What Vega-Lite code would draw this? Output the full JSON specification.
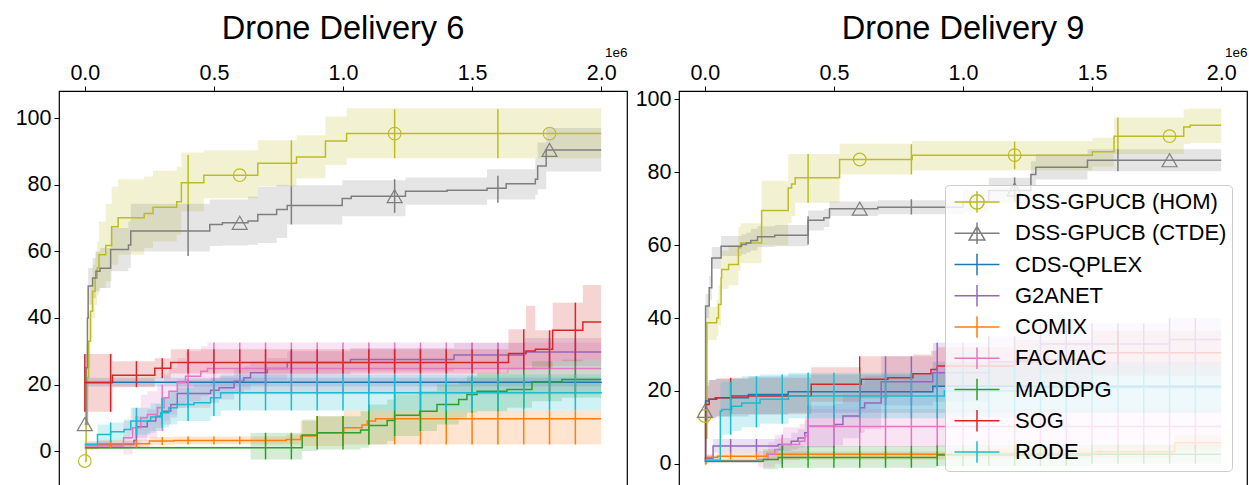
{
"$schema": "https://vega.github.io/schema/vega-lite/v6.json",
"padding": {"left": 14, "top": 12, "right": 0, "bottom": 0},
"bounds": "flush",
"spacing": 52,
"config": {
  "font": "Liberation Sans",
  "view": {"stroke": "black", "strokeWidth": 1.2},
  "axis": {"domain": false, "grid": false, "tickColor": "black", "tickSize": 5, "tickWidth": 1, "labelFontSize": 21.5, "labelColor": "black", "labelFont": "Liberation Sans"},
  "title": {"fontSize": 32.6, "font": "Liberation Sans", "fontWeight": "normal", "color": "black", "offset": -1},
  "legend": {"labelFontSize": 22, "labelFont": "Liberation Sans", "labelColor": "black", "labelLimit": 400, "symbolSize": 506, "symbolStrokeWidth": 1.5, "symbolOpacity": 1, "symbolOffset": 15, "labelOffset": 26, "rowPadding": 3.25, "padding": 5, "fillColor": "rgba(255,255,255,0.8)", "strokeColor": "#cccccc", "strokeWidth": 1, "cornerRadius": 4, "symbolFillColor": "transparent"}
},
"datasets": {
"steps": [
{"p":1,"s":"DSS-GPUCB (HOM)","x":0,"y":-3,"lo":-4,"hi":-2},
{"p":1,"s":"DSS-GPUCB (HOM)","x":0.005,"y":8,"lo":3,"hi":13},
{"p":1,"s":"DSS-GPUCB (HOM)","x":0.01,"y":22,"lo":15,"hi":29},
{"p":1,"s":"DSS-GPUCB (HOM)","x":0.015,"y":33,"lo":25,"hi":41},
{"p":1,"s":"DSS-GPUCB (HOM)","x":0.022,"y":42,"lo":34,"hi":50},
{"p":1,"s":"DSS-GPUCB (HOM)","x":0.03,"y":48,"lo":40,"hi":56},
{"p":1,"s":"DSS-GPUCB (HOM)","x":0.04,"y":52,"lo":44,"hi":60},
{"p":1,"s":"DSS-GPUCB (HOM)","x":0.048,"y":55,"lo":47,"hi":63},
{"p":1,"s":"DSS-GPUCB (HOM)","x":0.055,"y":59,"lo":49,"hi":69},
{"p":1,"s":"DSS-GPUCB (HOM)","x":0.081,"y":61.8,"lo":51,"hi":74.3},
{"p":1,"s":"DSS-GPUCB (HOM)","x":0.104,"y":67.4,"lo":56,"hi":79.4},
{"p":1,"s":"DSS-GPUCB (HOM)","x":0.129,"y":70.1,"lo":59,"hi":81.7},
{"p":1,"s":"DSS-GPUCB (HOM)","x":0.23,"y":71.4,"lo":61,"hi":82.5},
{"p":1,"s":"DSS-GPUCB (HOM)","x":0.264,"y":73.3,"lo":63,"hi":84.2},
{"p":1,"s":"DSS-GPUCB (HOM)","x":0.356,"y":74.9,"lo":65,"hi":85.5},
{"p":1,"s":"DSS-GPUCB (HOM)","x":0.374,"y":80.6,"lo":72,"hi":89.7},
{"p":1,"s":"DSS-GPUCB (HOM)","x":0.461,"y":82.9,"lo":76,"hi":90.4},
{"p":1,"s":"DSS-GPUCB (HOM)","x":0.67,"y":86.5,"lo":79.6,"hi":93.4},
{"p":1,"s":"DSS-GPUCB (HOM)","x":0.82,"y":88.4,"lo":82,"hi":94.9},
{"p":1,"s":"DSS-GPUCB (HOM)","x":0.932,"y":93.2,"lo":86,"hi":100.5},
{"p":1,"s":"DSS-GPUCB (HOM)","x":1.014,"y":95.4,"lo":88,"hi":103},
{"p":1,"s":"DSS-GPUCB (HOM)","x":2.0,"y":95.4,"lo":88,"hi":103},
{"p":1,"s":"DSS-GPUCB (CTDE)","x":0,"y":8.1,"lo":7,"hi":9},
{"p":1,"s":"DSS-GPUCB (CTDE)","x":0.005,"y":25,"lo":20,"hi":30},
{"p":1,"s":"DSS-GPUCB (CTDE)","x":0.01,"y":40,"lo":35,"hi":45},
{"p":1,"s":"DSS-GPUCB (CTDE)","x":0.013,"y":49.6,"lo":44,"hi":55},
{"p":1,"s":"DSS-GPUCB (CTDE)","x":0.03,"y":52,"lo":46,"hi":58},
{"p":1,"s":"DSS-GPUCB (CTDE)","x":0.043,"y":54,"lo":48,"hi":60},
{"p":1,"s":"DSS-GPUCB (CTDE)","x":0.059,"y":54.9,"lo":49,"hi":61},
{"p":1,"s":"DSS-GPUCB (CTDE)","x":0.1,"y":60.6,"lo":54,"hi":67},
{"p":1,"s":"DSS-GPUCB (CTDE)","x":0.169,"y":61.9,"lo":55,"hi":69},
{"p":1,"s":"DSS-GPUCB (CTDE)","x":0.178,"y":66.1,"lo":60,"hi":74.3},
{"p":1,"s":"DSS-GPUCB (CTDE)","x":0.484,"y":68.1,"lo":61.6,"hi":75.6},
{"p":1,"s":"DSS-GPUCB (CTDE)","x":0.533,"y":68.6,"lo":61.8,"hi":75.6},
{"p":1,"s":"DSS-GPUCB (CTDE)","x":0.632,"y":69.1,"lo":62,"hi":76.5},
{"p":1,"s":"DSS-GPUCB (CTDE)","x":0.67,"y":71.1,"lo":62.5,"hi":79.4},
{"p":1,"s":"DSS-GPUCB (CTDE)","x":0.743,"y":72.6,"lo":64,"hi":80},
{"p":1,"s":"DSS-GPUCB (CTDE)","x":0.784,"y":73.8,"lo":68.1,"hi":79.9},
{"p":1,"s":"DSS-GPUCB (CTDE)","x":0.997,"y":75.9,"lo":70.6,"hi":81.4},
{"p":1,"s":"DSS-GPUCB (CTDE)","x":1.032,"y":76.6,"lo":70.6,"hi":81.4},
{"p":1,"s":"DSS-GPUCB (CTDE)","x":1.242,"y":78.1,"lo":74,"hi":82.2},
{"p":1,"s":"DSS-GPUCB (CTDE)","x":1.403,"y":78.4,"lo":74,"hi":82.2},
{"p":1,"s":"DSS-GPUCB (CTDE)","x":1.558,"y":79,"lo":75.6,"hi":84.7},
{"p":1,"s":"DSS-GPUCB (CTDE)","x":1.632,"y":80.3,"lo":75.6,"hi":84.7},
{"p":1,"s":"DSS-GPUCB (CTDE)","x":1.745,"y":81.7,"lo":77,"hi":88},
{"p":1,"s":"DSS-GPUCB (CTDE)","x":1.754,"y":85.7,"lo":78.7,"hi":92.7},
{"p":1,"s":"DSS-GPUCB (CTDE)","x":1.787,"y":90.5,"lo":84,"hi":97.1},
{"p":1,"s":"DSS-GPUCB (CTDE)","x":2.0,"y":90.5,"lo":84,"hi":97.1},
{"p":1,"s":"CDS-QPLEX","x":0,"y":20.7,"lo":19.4,"hi":22},
{"p":1,"s":"CDS-QPLEX","x":2.0,"y":20.8,"lo":19.4,"hi":22},
{"p":1,"s":"G2ANET","x":0,"y":2,"lo":1,"hi":3},
{"p":1,"s":"G2ANET","x":0.19,"y":3.2,"lo":1.5,"hi":5},
{"p":1,"s":"G2ANET","x":0.2,"y":7.3,"lo":4,"hi":10.5},
{"p":1,"s":"G2ANET","x":0.242,"y":9,"lo":5.5,"hi":12.5},
{"p":1,"s":"G2ANET","x":0.275,"y":10.5,"lo":7,"hi":14},
{"p":1,"s":"G2ANET","x":0.3,"y":12,"lo":8,"hi":16},
{"p":1,"s":"G2ANET","x":0.333,"y":14,"lo":10,"hi":18},
{"p":1,"s":"G2ANET","x":0.358,"y":17.3,"lo":13,"hi":21.5},
{"p":1,"s":"G2ANET","x":0.487,"y":18.3,"lo":14.5,"hi":22},
{"p":1,"s":"G2ANET","x":0.52,"y":19,"lo":15.5,"hi":22.5},
{"p":1,"s":"G2ANET","x":0.578,"y":21,"lo":17.5,"hi":24.5},
{"p":1,"s":"G2ANET","x":0.616,"y":22,"lo":18.5,"hi":25.5},
{"p":1,"s":"G2ANET","x":0.642,"y":23.5,"lo":20,"hi":27},
{"p":1,"s":"G2ANET","x":0.707,"y":24.8,"lo":21.5,"hi":28},
{"p":1,"s":"G2ANET","x":0.784,"y":26.6,"lo":23,"hi":30},
{"p":1,"s":"G2ANET","x":1.029,"y":27.5,"lo":24,"hi":31},
{"p":1,"s":"G2ANET","x":1.43,"y":28.9,"lo":25,"hi":32.5},
{"p":1,"s":"G2ANET","x":1.703,"y":29.8,"lo":25.5,"hi":34},
{"p":1,"s":"G2ANET","x":2.0,"y":29.8,"lo":25.5,"hi":34},
{"p":1,"s":"COMIX","x":0,"y":1,"lo":0.5,"hi":1.5},
{"p":1,"s":"COMIX","x":0.05,"y":2.2,"lo":1,"hi":3.4},
{"p":1,"s":"COMIX","x":0.25,"y":3,"lo":1.8,"hi":4.2},
{"p":1,"s":"COMIX","x":0.345,"y":3.2,"lo":2,"hi":4.4},
{"p":1,"s":"COMIX","x":0.78,"y":3.5,"lo":2,"hi":5},
{"p":1,"s":"COMIX","x":0.836,"y":4.5,"lo":1.5,"hi":9},
{"p":1,"s":"COMIX","x":0.9,"y":5.5,"lo":1.5,"hi":10.5},
{"p":1,"s":"COMIX","x":1.003,"y":7,"lo":2,"hi":12.2},
{"p":1,"s":"COMIX","x":1.074,"y":7.8,"lo":2,"hi":12.2},
{"p":1,"s":"COMIX","x":1.094,"y":9,"lo":2,"hi":12.2},
{"p":1,"s":"COMIX","x":1.126,"y":9.7,"lo":2,"hi":12.2},
{"p":1,"s":"COMIX","x":2.0,"y":9.7,"lo":2,"hi":12.2},
{"p":1,"s":"FACMAC","x":0,"y":1.5,"lo":0.5,"hi":2.5},
{"p":1,"s":"FACMAC","x":0.15,"y":4,"lo":-1,"hi":9},
{"p":1,"s":"FACMAC","x":0.185,"y":7,"lo":1,"hi":13},
{"p":1,"s":"FACMAC","x":0.217,"y":10,"lo":3,"hi":17},
{"p":1,"s":"FACMAC","x":0.242,"y":11,"lo":4,"hi":18},
{"p":1,"s":"FACMAC","x":0.281,"y":13,"lo":6,"hi":20},
{"p":1,"s":"FACMAC","x":0.307,"y":16,"lo":9,"hi":23},
{"p":1,"s":"FACMAC","x":0.326,"y":18,"lo":11,"hi":25},
{"p":1,"s":"FACMAC","x":0.358,"y":20.5,"lo":13,"hi":28},
{"p":1,"s":"FACMAC","x":0.39,"y":22.5,"lo":15,"hi":30},
{"p":1,"s":"FACMAC","x":0.449,"y":24,"lo":16.5,"hi":31.5},
{"p":1,"s":"FACMAC","x":0.475,"y":24.8,"lo":17,"hi":32.6},
{"p":1,"s":"FACMAC","x":2.0,"y":24.8,"lo":17,"hi":32.6},
{"p":1,"s":"MADDPG","x":0,"y":1,"lo":0.6,"hi":1.4},
{"p":1,"s":"MADDPG","x":0.642,"y":1,"lo":-2.5,"hi":5.5},
{"p":1,"s":"MADDPG","x":0.842,"y":4.8,"lo":0,"hi":9.5},
{"p":1,"s":"MADDPG","x":0.9,"y":5.5,"lo":0.5,"hi":10.5},
{"p":1,"s":"MADDPG","x":1.068,"y":6.3,"lo":1,"hi":12},
{"p":1,"s":"MADDPG","x":1.1,"y":7.7,"lo":2,"hi":14},
{"p":1,"s":"MADDPG","x":1.171,"y":9.2,"lo":3,"hi":15.5},
{"p":1,"s":"MADDPG","x":1.2,"y":10.8,"lo":4.5,"hi":17},
{"p":1,"s":"MADDPG","x":1.297,"y":12,"lo":6,"hi":18},
{"p":1,"s":"MADDPG","x":1.364,"y":14,"lo":8,"hi":20},
{"p":1,"s":"MADDPG","x":1.448,"y":15.5,"lo":10,"hi":21},
{"p":1,"s":"MADDPG","x":1.48,"y":17,"lo":11.5,"hi":22.5},
{"p":1,"s":"MADDPG","x":1.519,"y":18,"lo":12,"hi":23.5},
{"p":1,"s":"MADDPG","x":1.635,"y":18.5,"lo":13,"hi":25},
{"p":1,"s":"MADDPG","x":1.732,"y":20.8,"lo":15,"hi":27},
{"p":1,"s":"MADDPG","x":1.848,"y":21.5,"lo":16,"hi":27.5},
{"p":1,"s":"MADDPG","x":2.0,"y":21.5,"lo":16,"hi":27.5},
{"p":1,"s":"SOG","x":0,"y":20.5,"lo":11.8,"hi":29.2},
{"p":1,"s":"SOG","x":0.107,"y":22.8,"lo":19.2,"hi":27},
{"p":1,"s":"SOG","x":0.271,"y":24.9,"lo":21.9,"hi":27.9},
{"p":1,"s":"SOG","x":0.333,"y":26.6,"lo":23.3,"hi":30.6},
{"p":1,"s":"SOG","x":1.641,"y":29.3,"lo":24.5,"hi":36.6},
{"p":1,"s":"SOG","x":1.709,"y":30.1,"lo":24.5,"hi":43.7},
{"p":1,"s":"SOG","x":1.745,"y":30.6,"lo":25,"hi":36.3},
{"p":1,"s":"SOG","x":1.812,"y":36.3,"lo":27,"hi":44.6},
{"p":1,"s":"SOG","x":1.929,"y":38.8,"lo":27.5,"hi":49.9},
{"p":1,"s":"SOG","x":2.0,"y":38.8,"lo":27.5,"hi":49.9},
{"p":1,"s":"RODE","x":0,"y":2,"lo":1.5,"hi":2.5},
{"p":1,"s":"RODE","x":0.049,"y":5,"lo":2,"hi":8},
{"p":1,"s":"RODE","x":0.1,"y":5.8,"lo":3,"hi":8.6},
{"p":1,"s":"RODE","x":0.152,"y":6.5,"lo":3.5,"hi":9.5},
{"p":1,"s":"RODE","x":0.178,"y":9,"lo":5,"hi":13},
{"p":1,"s":"RODE","x":0.255,"y":10.2,"lo":6,"hi":14.4},
{"p":1,"s":"RODE","x":0.294,"y":11.5,"lo":7,"hi":16},
{"p":1,"s":"RODE","x":0.326,"y":13,"lo":8,"hi":18},
{"p":1,"s":"RODE","x":0.358,"y":14,"lo":9,"hi":19},
{"p":1,"s":"RODE","x":0.423,"y":14.5,"lo":9,"hi":20},
{"p":1,"s":"RODE","x":0.487,"y":16,"lo":10.5,"hi":21.5},
{"p":1,"s":"RODE","x":0.526,"y":17.5,"lo":12.2,"hi":23},
{"p":1,"s":"RODE","x":2.0,"y":17.7,"lo":12.2,"hi":23},
{"p":2,"s":"DSS-GPUCB (HOM)","x":0,"y":13.1,"lo":12,"hi":14.5},
{"p":2,"s":"DSS-GPUCB (HOM)","x":0.003,"y":7,"lo":5,"hi":9},
{"p":2,"s":"DSS-GPUCB (HOM)","x":0.008,"y":38.7,"lo":34,"hi":43},
{"p":2,"s":"DSS-GPUCB (HOM)","x":0.046,"y":40,"lo":35,"hi":45},
{"p":2,"s":"DSS-GPUCB (HOM)","x":0.053,"y":43.7,"lo":38,"hi":49},
{"p":2,"s":"DSS-GPUCB (HOM)","x":0.063,"y":51,"lo":45,"hi":57},
{"p":2,"s":"DSS-GPUCB (HOM)","x":0.065,"y":53.3,"lo":48,"hi":58.5},
{"p":2,"s":"DSS-GPUCB (HOM)","x":0.092,"y":54.7,"lo":49,"hi":60},
{"p":2,"s":"DSS-GPUCB (HOM)","x":0.13,"y":59.3,"lo":53,"hi":65},
{"p":2,"s":"DSS-GPUCB (HOM)","x":0.139,"y":60.6,"lo":55,"hi":66},
{"p":2,"s":"DSS-GPUCB (HOM)","x":0.22,"y":69.5,"lo":60,"hi":77.7},
{"p":2,"s":"DSS-GPUCB (HOM)","x":0.323,"y":75.7,"lo":66,"hi":85},
{"p":2,"s":"DSS-GPUCB (HOM)","x":0.336,"y":76.8,"lo":68,"hi":85},
{"p":2,"s":"DSS-GPUCB (HOM)","x":0.35,"y":78.5,"lo":71.6,"hi":85},
{"p":2,"s":"DSS-GPUCB (HOM)","x":0.522,"y":83.5,"lo":79.4,"hi":87.8},
{"p":2,"s":"DSS-GPUCB (HOM)","x":0.803,"y":84.7,"lo":80.5,"hi":88.6},
{"p":2,"s":"DSS-GPUCB (HOM)","x":1.501,"y":85.6,"lo":81.5,"hi":89.5},
{"p":2,"s":"DSS-GPUCB (HOM)","x":1.585,"y":89.9,"lo":85,"hi":95},
{"p":2,"s":"DSS-GPUCB (HOM)","x":1.855,"y":92.4,"lo":87.7,"hi":97.3},
{"p":2,"s":"DSS-GPUCB (HOM)","x":1.88,"y":92.9,"lo":88,"hi":97.5},
{"p":2,"s":"DSS-GPUCB (HOM)","x":2.0,"y":92.9,"lo":88,"hi":97.5},
{"p":2,"s":"DSS-GPUCB (CTDE)","x":0,"y":14.5,"lo":13,"hi":16},
{"p":2,"s":"DSS-GPUCB (CTDE)","x":0.003,"y":43.3,"lo":40,"hi":46.5},
{"p":2,"s":"DSS-GPUCB (CTDE)","x":0.017,"y":48.3,"lo":45,"hi":51.5},
{"p":2,"s":"DSS-GPUCB (CTDE)","x":0.027,"y":56.5,"lo":53.5,"hi":59.5},
{"p":2,"s":"DSS-GPUCB (CTDE)","x":0.063,"y":59.7,"lo":57,"hi":62.5},
{"p":2,"s":"DSS-GPUCB (CTDE)","x":0.142,"y":60.2,"lo":57.5,"hi":63},
{"p":2,"s":"DSS-GPUCB (CTDE)","x":0.161,"y":60.6,"lo":58,"hi":63.5},
{"p":2,"s":"DSS-GPUCB (CTDE)","x":0.178,"y":61.3,"lo":58.5,"hi":64.5},
{"p":2,"s":"DSS-GPUCB (CTDE)","x":0.204,"y":62.3,"lo":59.5,"hi":65.2},
{"p":2,"s":"DSS-GPUCB (CTDE)","x":0.271,"y":62.7,"lo":59.7,"hi":65.5},
{"p":2,"s":"DSS-GPUCB (CTDE)","x":0.4,"y":66.8,"lo":64,"hi":69.5},
{"p":2,"s":"DSS-GPUCB (CTDE)","x":0.461,"y":67.5,"lo":65,"hi":70},
{"p":2,"s":"DSS-GPUCB (CTDE)","x":0.483,"y":70,"lo":68,"hi":72},
{"p":2,"s":"DSS-GPUCB (CTDE)","x":0.67,"y":70.4,"lo":68.5,"hi":72.3},
{"p":2,"s":"DSS-GPUCB (CTDE)","x":1.0,"y":72,"lo":69,"hi":75},
{"p":2,"s":"DSS-GPUCB (CTDE)","x":1.1,"y":75,"lo":71.5,"hi":78.5},
{"p":2,"s":"DSS-GPUCB (CTDE)","x":1.263,"y":79.4,"lo":76,"hi":83},
{"p":2,"s":"DSS-GPUCB (CTDE)","x":1.282,"y":81.4,"lo":78,"hi":85},
{"p":2,"s":"DSS-GPUCB (CTDE)","x":1.482,"y":83.3,"lo":80.3,"hi":86.3},
{"p":2,"s":"DSS-GPUCB (CTDE)","x":2.0,"y":83.3,"lo":80.3,"hi":86.3},
{"p":2,"s":"CDS-QPLEX","x":0,"y":1,"lo":0,"hi":2},
{"p":2,"s":"CDS-QPLEX","x":0.003,"y":17.2,"lo":12,"hi":22.5},
{"p":2,"s":"CDS-QPLEX","x":0.015,"y":17.7,"lo":12.5,"hi":23},
{"p":2,"s":"CDS-QPLEX","x":0.04,"y":18.1,"lo":13,"hi":23.3},
{"p":2,"s":"CDS-QPLEX","x":0.169,"y":19,"lo":13.5,"hi":24},
{"p":2,"s":"CDS-QPLEX","x":0.323,"y":19.8,"lo":14,"hi":24.5},
{"p":2,"s":"CDS-QPLEX","x":0.883,"y":21.3,"lo":14,"hi":28},
{"p":2,"s":"CDS-QPLEX","x":2.0,"y":21.3,"lo":14,"hi":28},
{"p":2,"s":"G2ANET","x":0,"y":1.5,"lo":0.5,"hi":2.5},
{"p":2,"s":"G2ANET","x":0.032,"y":4.9,"lo":3,"hi":6.8},
{"p":2,"s":"G2ANET","x":0.284,"y":5.3,"lo":3.5,"hi":7},
{"p":2,"s":"G2ANET","x":0.335,"y":6.2,"lo":4,"hi":8.5},
{"p":2,"s":"G2ANET","x":0.361,"y":7.1,"lo":4.5,"hi":9.5},
{"p":2,"s":"G2ANET","x":0.387,"y":8.5,"lo":5,"hi":12},
{"p":2,"s":"G2ANET","x":0.4,"y":10.3,"lo":4.5,"hi":16},
{"p":2,"s":"G2ANET","x":0.503,"y":10.8,"lo":5,"hi":16.5},
{"p":2,"s":"G2ANET","x":0.535,"y":13.1,"lo":7,"hi":19},
{"p":2,"s":"G2ANET","x":0.6,"y":15.4,"lo":8.5,"hi":22},
{"p":2,"s":"G2ANET","x":0.619,"y":16.7,"lo":9.5,"hi":24},
{"p":2,"s":"G2ANET","x":0.683,"y":22.5,"lo":16,"hi":29.5},
{"p":2,"s":"G2ANET","x":0.883,"y":25,"lo":17,"hi":33.2},
{"p":2,"s":"G2ANET","x":1.1,"y":28,"lo":20,"hi":35},
{"p":2,"s":"G2ANET","x":1.3,"y":32.9,"lo":25,"hi":38.5},
{"p":2,"s":"G2ANET","x":1.8,"y":34.1,"lo":27,"hi":40},
{"p":2,"s":"G2ANET","x":2.0,"y":34.1,"lo":27,"hi":40},
{"p":2,"s":"COMIX","x":0,"y":0,"lo":-0.5,"hi":0.5},
{"p":2,"s":"COMIX","x":0.005,"y":1.8,"lo":1,"hi":2.6},
{"p":2,"s":"COMIX","x":0.05,"y":2.1,"lo":1.2,"hi":3},
{"p":2,"s":"COMIX","x":0.24,"y":2.6,"lo":1.2,"hi":3.4},
{"p":2,"s":"COMIX","x":1.0,"y":2.8,"lo":1.3,"hi":4.3},
{"p":2,"s":"COMIX","x":1.5,"y":3.3,"lo":1.5,"hi":5},
{"p":2,"s":"COMIX","x":1.82,"y":5.8,"lo":3.5,"hi":8},
{"p":2,"s":"COMIX","x":2.0,"y":5.8,"lo":3.5,"hi":8},
{"p":2,"s":"FACMAC","x":0,"y":0.8,"lo":0.3,"hi":1.3},
{"p":2,"s":"FACMAC","x":0.206,"y":1.2,"lo":-1,"hi":3.5},
{"p":2,"s":"FACMAC","x":0.245,"y":2.6,"lo":-1,"hi":6},
{"p":2,"s":"FACMAC","x":0.271,"y":3.9,"lo":0,"hi":8},
{"p":2,"s":"FACMAC","x":0.303,"y":5.3,"lo":1,"hi":10},
{"p":2,"s":"FACMAC","x":0.367,"y":6.2,"lo":1.5,"hi":11},
{"p":2,"s":"FACMAC","x":0.387,"y":7.6,"lo":2.5,"hi":13},
{"p":2,"s":"FACMAC","x":0.4,"y":10.2,"lo":4.7,"hi":15},
{"p":2,"s":"FACMAC","x":2.0,"y":10.2,"lo":4.7,"hi":15},
{"p":2,"s":"MADDPG","x":0,"y":0.7,"lo":0.3,"hi":1.1},
{"p":2,"s":"MADDPG","x":0.226,"y":1.2,"lo":-1.5,"hi":4},
{"p":2,"s":"MADDPG","x":0.284,"y":1.7,"lo":-1.1,"hi":4.9},
{"p":2,"s":"MADDPG","x":0.9,"y":2.4,"lo":-0.6,"hi":5},
{"p":2,"s":"MADDPG","x":1.5,"y":2.6,"lo":0,"hi":5.2},
{"p":2,"s":"MADDPG","x":2.0,"y":2.6,"lo":0,"hi":5.2},
{"p":2,"s":"SOG","x":0,"y":0.7,"lo":0,"hi":1.5},
{"p":2,"s":"SOG","x":0.003,"y":16.3,"lo":11,"hi":21.5},
{"p":2,"s":"SOG","x":0.017,"y":17.7,"lo":12.5,"hi":23},
{"p":2,"s":"SOG","x":0.046,"y":18.1,"lo":13,"hi":23.5},
{"p":2,"s":"SOG","x":0.104,"y":18.6,"lo":13.6,"hi":23.6},
{"p":2,"s":"SOG","x":0.412,"y":21.8,"lo":17,"hi":26.5},
{"p":2,"s":"SOG","x":0.606,"y":23.2,"lo":18,"hi":29.5},
{"p":2,"s":"SOG","x":0.709,"y":23.6,"lo":18.5,"hi":29.5},
{"p":2,"s":"SOG","x":0.806,"y":24.7,"lo":19.5,"hi":30},
{"p":2,"s":"SOG","x":0.876,"y":25.9,"lo":20.5,"hi":31},
{"p":2,"s":"SOG","x":0.9,"y":26.8,"lo":21,"hi":32},
{"p":2,"s":"SOG","x":1.2,"y":28.5,"lo":22,"hi":34},
{"p":2,"s":"SOG","x":1.5,"y":30.5,"lo":24,"hi":36.5},
{"p":2,"s":"SOG","x":2.0,"y":30.5,"lo":24,"hi":36.5},
{"p":2,"s":"RODE","x":0,"y":1,"lo":0.5,"hi":1.5},
{"p":2,"s":"RODE","x":0.06,"y":14.5,"lo":7,"hi":22},
{"p":2,"s":"RODE","x":0.066,"y":14.9,"lo":8,"hi":22.5},
{"p":2,"s":"RODE","x":0.104,"y":15.8,"lo":9,"hi":23.5},
{"p":2,"s":"RODE","x":0.143,"y":16.7,"lo":10,"hi":24},
{"p":2,"s":"RODE","x":0.214,"y":17.7,"lo":11,"hi":24.5},
{"p":2,"s":"RODE","x":0.324,"y":18.6,"lo":12.5,"hi":25},
{"p":2,"s":"RODE","x":0.928,"y":20,"lo":13,"hi":26.5},
{"p":2,"s":"RODE","x":1.3,"y":20.9,"lo":14,"hi":27},
{"p":2,"s":"RODE","x":2.0,"y":20.9,"lo":14,"hi":27}
],
"bars": [
{"p":1,"s":"DSS-GPUCB (HOM)","x":0.4,"lo":72,"hi":89},
{"p":1,"s":"DSS-GPUCB (HOM)","x":0.8,"lo":79.6,"hi":93.4},
{"p":1,"s":"DSS-GPUCB (HOM)","x":1.2,"lo":88,"hi":102.7},
{"p":1,"s":"DSS-GPUCB (HOM)","x":1.6,"lo":88,"hi":102.7},
{"p":1,"s":"DSS-GPUCB (CTDE)","x":0.4,"lo":58.6,"hi":74.1},
{"p":1,"s":"DSS-GPUCB (CTDE)","x":0.8,"lo":68.1,"hi":79.6},
{"p":1,"s":"DSS-GPUCB (CTDE)","x":1.2,"lo":71.6,"hi":81.7},
{"p":1,"s":"DSS-GPUCB (CTDE)","x":1.6,"lo":74.6,"hi":82.7},
{"p":1,"s":"G2ANET","x":0.1,"lo":1,"hi":3},
{"p":1,"s":"G2ANET","x":0.2,"lo":4,"hi":10.5},
{"p":1,"s":"G2ANET","x":0.3,"lo":8,"hi":16},
{"p":1,"s":"G2ANET","x":0.4,"lo":13,"hi":21.5},
{"p":1,"s":"G2ANET","x":0.5,"lo":14.5,"hi":22},
{"p":1,"s":"G2ANET","x":0.6,"lo":17.5,"hi":24.5},
{"p":1,"s":"G2ANET","x":0.7,"lo":20,"hi":27},
{"p":1,"s":"G2ANET","x":0.8,"lo":23,"hi":30},
{"p":1,"s":"G2ANET","x":0.9,"lo":23,"hi":30},
{"p":1,"s":"G2ANET","x":1.0,"lo":23,"hi":30},
{"p":1,"s":"G2ANET","x":1.1,"lo":24,"hi":31},
{"p":1,"s":"G2ANET","x":1.2,"lo":24,"hi":31},
{"p":1,"s":"G2ANET","x":1.3,"lo":24,"hi":31},
{"p":1,"s":"G2ANET","x":1.4,"lo":24,"hi":31},
{"p":1,"s":"G2ANET","x":1.5,"lo":25,"hi":32.5},
{"p":1,"s":"G2ANET","x":1.6,"lo":25,"hi":32.5},
{"p":1,"s":"G2ANET","x":1.7,"lo":25,"hi":32.5},
{"p":1,"s":"G2ANET","x":1.8,"lo":25.5,"hi":34},
{"p":1,"s":"G2ANET","x":1.9,"lo":25.5,"hi":34},
{"p":1,"s":"COMIX","x":0.1,"lo":1,"hi":3.4},
{"p":1,"s":"COMIX","x":0.2,"lo":1,"hi":3.4},
{"p":1,"s":"COMIX","x":0.3,"lo":1.8,"hi":4.2},
{"p":1,"s":"COMIX","x":0.4,"lo":2,"hi":4.4},
{"p":1,"s":"COMIX","x":0.5,"lo":2,"hi":4.4},
{"p":1,"s":"COMIX","x":0.6,"lo":2,"hi":4.4},
{"p":1,"s":"COMIX","x":0.7,"lo":2,"hi":4.4},
{"p":1,"s":"COMIX","x":0.8,"lo":2,"hi":5},
{"p":1,"s":"COMIX","x":0.9,"lo":1.5,"hi":10.5},
{"p":1,"s":"COMIX","x":1.0,"lo":1.5,"hi":10.5},
{"p":1,"s":"COMIX","x":1.1,"lo":2,"hi":12.2},
{"p":1,"s":"COMIX","x":1.2,"lo":2,"hi":12.2},
{"p":1,"s":"COMIX","x":1.3,"lo":2,"hi":12.2},
{"p":1,"s":"COMIX","x":1.4,"lo":2,"hi":12.2},
{"p":1,"s":"COMIX","x":1.5,"lo":2,"hi":12.2},
{"p":1,"s":"COMIX","x":1.6,"lo":2,"hi":12.2},
{"p":1,"s":"COMIX","x":1.7,"lo":2,"hi":12.2},
{"p":1,"s":"COMIX","x":1.8,"lo":2,"hi":12.2},
{"p":1,"s":"COMIX","x":1.9,"lo":2,"hi":12.2},
{"p":1,"s":"FACMAC","x":0.3,"lo":6,"hi":20},
{"p":1,"s":"FACMAC","x":0.4,"lo":15,"hi":30},
{"p":1,"s":"FACMAC","x":0.5,"lo":17,"hi":32.6},
{"p":1,"s":"FACMAC","x":0.6,"lo":17,"hi":32.6},
{"p":1,"s":"FACMAC","x":0.7,"lo":17,"hi":32.6},
{"p":1,"s":"FACMAC","x":0.8,"lo":17,"hi":32.6},
{"p":1,"s":"FACMAC","x":0.9,"lo":17,"hi":32.6},
{"p":1,"s":"FACMAC","x":1.0,"lo":17,"hi":32.6},
{"p":1,"s":"FACMAC","x":1.1,"lo":17,"hi":32.6},
{"p":1,"s":"FACMAC","x":1.2,"lo":17,"hi":32.6},
{"p":1,"s":"FACMAC","x":1.3,"lo":17,"hi":32.6},
{"p":1,"s":"FACMAC","x":1.4,"lo":17,"hi":32.6},
{"p":1,"s":"FACMAC","x":1.5,"lo":17,"hi":32.6},
{"p":1,"s":"FACMAC","x":1.6,"lo":17,"hi":32.6},
{"p":1,"s":"FACMAC","x":1.7,"lo":17,"hi":32.6},
{"p":1,"s":"FACMAC","x":1.8,"lo":17,"hi":32.6},
{"p":1,"s":"FACMAC","x":1.9,"lo":17,"hi":32.6},
{"p":1,"s":"MADDPG","x":0.7,"lo":-2.5,"hi":5.5},
{"p":1,"s":"MADDPG","x":0.8,"lo":-2.5,"hi":5.5},
{"p":1,"s":"MADDPG","x":0.9,"lo":0.5,"hi":10.5},
{"p":1,"s":"MADDPG","x":1.0,"lo":0.5,"hi":10.5},
{"p":1,"s":"MADDPG","x":1.1,"lo":2,"hi":14},
{"p":1,"s":"MADDPG","x":1.2,"lo":4.5,"hi":17},
{"p":1,"s":"MADDPG","x":1.3,"lo":6,"hi":18},
{"p":1,"s":"MADDPG","x":1.4,"lo":8,"hi":20},
{"p":1,"s":"MADDPG","x":1.5,"lo":11.5,"hi":22.5},
{"p":1,"s":"MADDPG","x":1.6,"lo":12,"hi":23.5},
{"p":1,"s":"MADDPG","x":1.7,"lo":13,"hi":25},
{"p":1,"s":"MADDPG","x":1.8,"lo":15,"hi":27},
{"p":1,"s":"MADDPG","x":1.9,"lo":16,"hi":27.5},
{"p":1,"s":"SOG","x":0,"lo":11.8,"hi":29.2},
{"p":1,"s":"SOG","x":0.1,"lo":11.8,"hi":29.2},
{"p":1,"s":"SOG","x":0.2,"lo":19.2,"hi":27},
{"p":1,"s":"SOG","x":0.3,"lo":21.9,"hi":27.9},
{"p":1,"s":"SOG","x":0.4,"lo":23.3,"hi":30.6},
{"p":1,"s":"SOG","x":0.5,"lo":23.3,"hi":30.6},
{"p":1,"s":"SOG","x":0.6,"lo":23.3,"hi":30.6},
{"p":1,"s":"SOG","x":0.7,"lo":23.3,"hi":30.6},
{"p":1,"s":"SOG","x":0.8,"lo":23.3,"hi":30.6},
{"p":1,"s":"SOG","x":0.9,"lo":23.3,"hi":30.6},
{"p":1,"s":"SOG","x":1.0,"lo":23.3,"hi":30.6},
{"p":1,"s":"SOG","x":1.1,"lo":23.3,"hi":30.6},
{"p":1,"s":"SOG","x":1.2,"lo":23.3,"hi":30.6},
{"p":1,"s":"SOG","x":1.3,"lo":23.3,"hi":30.6},
{"p":1,"s":"SOG","x":1.4,"lo":23.3,"hi":30.6},
{"p":1,"s":"SOG","x":1.5,"lo":23.3,"hi":30.6},
{"p":1,"s":"SOG","x":1.6,"lo":23.3,"hi":30.6},
{"p":1,"s":"SOG","x":1.7,"lo":24.5,"hi":36.6},
{"p":1,"s":"SOG","x":1.8,"lo":25,"hi":36.3},
{"p":1,"s":"SOG","x":1.9,"lo":27,"hi":44.6},
{"p":1,"s":"RODE","x":0.1,"lo":3,"hi":8.6},
{"p":1,"s":"RODE","x":0.2,"lo":5,"hi":13},
{"p":1,"s":"RODE","x":0.3,"lo":7,"hi":16},
{"p":1,"s":"RODE","x":0.4,"lo":9,"hi":19},
{"p":1,"s":"RODE","x":0.5,"lo":10.5,"hi":21.5},
{"p":1,"s":"RODE","x":0.6,"lo":12.2,"hi":23},
{"p":1,"s":"RODE","x":0.7,"lo":12.2,"hi":23},
{"p":1,"s":"RODE","x":0.8,"lo":12.2,"hi":23},
{"p":1,"s":"RODE","x":0.9,"lo":12.2,"hi":23},
{"p":1,"s":"RODE","x":1.0,"lo":12.2,"hi":23},
{"p":1,"s":"RODE","x":1.1,"lo":12.2,"hi":23},
{"p":1,"s":"RODE","x":1.2,"lo":12.2,"hi":23},
{"p":1,"s":"RODE","x":1.3,"lo":12.2,"hi":23},
{"p":1,"s":"RODE","x":1.4,"lo":12.2,"hi":23},
{"p":1,"s":"RODE","x":1.5,"lo":12.2,"hi":23},
{"p":1,"s":"RODE","x":1.6,"lo":12.2,"hi":23},
{"p":1,"s":"RODE","x":1.7,"lo":12.2,"hi":23},
{"p":1,"s":"RODE","x":1.8,"lo":12.2,"hi":23},
{"p":1,"s":"RODE","x":1.9,"lo":12.2,"hi":23},
{"p":2,"s":"DSS-GPUCB (HOM)","x":0.4,"lo":71.6,"hi":85},
{"p":2,"s":"DSS-GPUCB (HOM)","x":0.8,"lo":79.4,"hi":87.7},
{"p":2,"s":"DSS-GPUCB (HOM)","x":1.2,"lo":80.8,"hi":88.4},
{"p":2,"s":"DSS-GPUCB (HOM)","x":1.6,"lo":85,"hi":95},
{"p":2,"s":"DSS-GPUCB (CTDE)","x":0.4,"lo":60.2,"hi":67.9},
{"p":2,"s":"DSS-GPUCB (CTDE)","x":0.8,"lo":68.4,"hi":72.6},
{"p":2,"s":"DSS-GPUCB (CTDE)","x":1.2,"lo":72,"hi":78.6},
{"p":2,"s":"DSS-GPUCB (CTDE)","x":1.6,"lo":80.3,"hi":86.3},
{"p":2,"s":"G2ANET","x":0.1,"lo":3,"hi":6.8},
{"p":2,"s":"G2ANET","x":0.2,"lo":3,"hi":6.8},
{"p":2,"s":"G2ANET","x":0.3,"lo":3.5,"hi":7},
{"p":2,"s":"G2ANET","x":0.4,"lo":4.5,"hi":16},
{"p":2,"s":"G2ANET","x":0.5,"lo":4.5,"hi":16},
{"p":2,"s":"G2ANET","x":0.6,"lo":8.5,"hi":22},
{"p":2,"s":"G2ANET","x":0.7,"lo":16,"hi":29.5},
{"p":2,"s":"G2ANET","x":0.8,"lo":16,"hi":29.5},
{"p":2,"s":"G2ANET","x":0.9,"lo":17,"hi":33.2},
{"p":2,"s":"G2ANET","x":1.0,"lo":17,"hi":33.2},
{"p":2,"s":"G2ANET","x":1.1,"lo":20,"hi":35},
{"p":2,"s":"G2ANET","x":1.2,"lo":20,"hi":35},
{"p":2,"s":"G2ANET","x":1.3,"lo":25,"hi":38.5},
{"p":2,"s":"G2ANET","x":1.4,"lo":25,"hi":38.5},
{"p":2,"s":"G2ANET","x":1.5,"lo":25,"hi":38.5},
{"p":2,"s":"G2ANET","x":1.6,"lo":25,"hi":38.5},
{"p":2,"s":"G2ANET","x":1.7,"lo":25,"hi":38.5},
{"p":2,"s":"G2ANET","x":1.8,"lo":27,"hi":40},
{"p":2,"s":"G2ANET","x":1.9,"lo":27,"hi":40},
{"p":2,"s":"COMIX","x":0.1,"lo":1.2,"hi":3},
{"p":2,"s":"COMIX","x":0.2,"lo":1.2,"hi":3},
{"p":2,"s":"COMIX","x":0.3,"lo":1.2,"hi":3.4},
{"p":2,"s":"COMIX","x":0.4,"lo":1.2,"hi":3.4},
{"p":2,"s":"COMIX","x":0.5,"lo":1.2,"hi":3.4},
{"p":2,"s":"COMIX","x":0.6,"lo":1.2,"hi":3.4},
{"p":2,"s":"COMIX","x":0.7,"lo":1.2,"hi":3.4},
{"p":2,"s":"COMIX","x":0.8,"lo":1.2,"hi":3.4},
{"p":2,"s":"COMIX","x":0.9,"lo":1.2,"hi":3.4},
{"p":2,"s":"COMIX","x":1.0,"lo":1.3,"hi":4.3},
{"p":2,"s":"COMIX","x":1.1,"lo":1.3,"hi":4.3},
{"p":2,"s":"COMIX","x":1.2,"lo":1.3,"hi":4.3},
{"p":2,"s":"COMIX","x":1.3,"lo":1.3,"hi":4.3},
{"p":2,"s":"COMIX","x":1.4,"lo":1.3,"hi":4.3},
{"p":2,"s":"COMIX","x":1.5,"lo":1.5,"hi":5},
{"p":2,"s":"COMIX","x":1.6,"lo":1.5,"hi":5},
{"p":2,"s":"COMIX","x":1.7,"lo":1.5,"hi":5},
{"p":2,"s":"COMIX","x":1.8,"lo":1.5,"hi":5},
{"p":2,"s":"COMIX","x":1.9,"lo":3.5,"hi":8},
{"p":2,"s":"FACMAC","x":0.3,"lo":0,"hi":8},
{"p":2,"s":"FACMAC","x":0.4,"lo":4.7,"hi":15},
{"p":2,"s":"FACMAC","x":0.5,"lo":4.7,"hi":15},
{"p":2,"s":"FACMAC","x":0.6,"lo":4.7,"hi":15},
{"p":2,"s":"FACMAC","x":0.7,"lo":4.7,"hi":15},
{"p":2,"s":"FACMAC","x":0.8,"lo":4.7,"hi":15},
{"p":2,"s":"FACMAC","x":0.9,"lo":4.7,"hi":15},
{"p":2,"s":"FACMAC","x":1.0,"lo":4.7,"hi":15},
{"p":2,"s":"FACMAC","x":1.1,"lo":4.7,"hi":15},
{"p":2,"s":"FACMAC","x":1.2,"lo":4.7,"hi":15},
{"p":2,"s":"FACMAC","x":1.3,"lo":4.7,"hi":15},
{"p":2,"s":"FACMAC","x":1.4,"lo":4.7,"hi":15},
{"p":2,"s":"FACMAC","x":1.5,"lo":4.7,"hi":15},
{"p":2,"s":"FACMAC","x":1.6,"lo":4.7,"hi":15},
{"p":2,"s":"FACMAC","x":1.7,"lo":4.7,"hi":15},
{"p":2,"s":"FACMAC","x":1.8,"lo":4.7,"hi":15},
{"p":2,"s":"FACMAC","x":1.9,"lo":4.7,"hi":15},
{"p":2,"s":"MADDPG","x":0.3,"lo":-1.1,"hi":4.9},
{"p":2,"s":"MADDPG","x":0.4,"lo":-1.1,"hi":4.9},
{"p":2,"s":"MADDPG","x":0.5,"lo":-1.1,"hi":4.9},
{"p":2,"s":"MADDPG","x":0.6,"lo":-1.1,"hi":4.9},
{"p":2,"s":"MADDPG","x":0.7,"lo":-1.1,"hi":4.9},
{"p":2,"s":"MADDPG","x":0.8,"lo":-1.1,"hi":4.9},
{"p":2,"s":"MADDPG","x":0.9,"lo":-0.6,"hi":5},
{"p":2,"s":"MADDPG","x":1.0,"lo":-0.6,"hi":5},
{"p":2,"s":"MADDPG","x":1.1,"lo":-0.6,"hi":5},
{"p":2,"s":"MADDPG","x":1.2,"lo":-0.6,"hi":5},
{"p":2,"s":"MADDPG","x":1.3,"lo":-0.6,"hi":5},
{"p":2,"s":"MADDPG","x":1.4,"lo":-0.6,"hi":5},
{"p":2,"s":"MADDPG","x":1.5,"lo":0,"hi":5.2},
{"p":2,"s":"MADDPG","x":1.6,"lo":0,"hi":5.2},
{"p":2,"s":"MADDPG","x":1.7,"lo":0,"hi":5.2},
{"p":2,"s":"MADDPG","x":1.8,"lo":0,"hi":5.2},
{"p":2,"s":"MADDPG","x":1.9,"lo":0,"hi":5.2},
{"p":2,"s":"SOG","x":0.1,"lo":13.6,"hi":23.6},
{"p":2,"s":"SOG","x":0.6,"lo":18,"hi":29.5},
{"p":2,"s":"SOG","x":1.1,"lo":21,"hi":32},
{"p":2,"s":"SOG","x":1.6,"lo":24,"hi":36.5},
{"p":2,"s":"RODE","x":0.1,"lo":8,"hi":22.5},
{"p":2,"s":"RODE","x":0.2,"lo":10,"hi":24},
{"p":2,"s":"RODE","x":0.3,"lo":11,"hi":24.5},
{"p":2,"s":"RODE","x":0.4,"lo":12.5,"hi":25},
{"p":2,"s":"RODE","x":0.5,"lo":12.5,"hi":25},
{"p":2,"s":"RODE","x":0.6,"lo":12.5,"hi":25},
{"p":2,"s":"RODE","x":0.7,"lo":12.5,"hi":25},
{"p":2,"s":"RODE","x":0.8,"lo":12.5,"hi":25},
{"p":2,"s":"RODE","x":0.9,"lo":12.5,"hi":25},
{"p":2,"s":"RODE","x":1.0,"lo":13,"hi":26.5},
{"p":2,"s":"RODE","x":1.1,"lo":13,"hi":26.5},
{"p":2,"s":"RODE","x":1.2,"lo":13,"hi":26.5},
{"p":2,"s":"RODE","x":1.3,"lo":14,"hi":27},
{"p":2,"s":"RODE","x":1.4,"lo":14,"hi":27},
{"p":2,"s":"RODE","x":1.5,"lo":14,"hi":27},
{"p":2,"s":"RODE","x":1.6,"lo":14,"hi":27},
{"p":2,"s":"RODE","x":1.7,"lo":14,"hi":27},
{"p":2,"s":"RODE","x":1.8,"lo":14,"hi":27},
{"p":2,"s":"RODE","x":1.9,"lo":14,"hi":27}
],
"marks": [
{"p":1,"s":"DSS-GPUCB (HOM)","x":0,"y":-3},
{"p":1,"s":"DSS-GPUCB (HOM)","x":0.6,"y":82.9},
{"p":1,"s":"DSS-GPUCB (HOM)","x":1.2,"y":95.4},
{"p":1,"s":"DSS-GPUCB (HOM)","x":1.8,"y":95.4},
{"p":1,"s":"DSS-GPUCB (CTDE)","x":0,"y":8.1},
{"p":1,"s":"DSS-GPUCB (CTDE)","x":0.6,"y":68.6},
{"p":1,"s":"DSS-GPUCB (CTDE)","x":1.2,"y":76.6},
{"p":1,"s":"DSS-GPUCB (CTDE)","x":1.8,"y":90.5},
{"p":2,"s":"DSS-GPUCB (HOM)","x":0,"y":13.1},
{"p":2,"s":"DSS-GPUCB (HOM)","x":0.6,"y":83.5},
{"p":2,"s":"DSS-GPUCB (HOM)","x":1.2,"y":84.7},
{"p":2,"s":"DSS-GPUCB (HOM)","x":1.8,"y":89.9},
{"p":2,"s":"DSS-GPUCB (CTDE)","x":0,"y":14.5},
{"p":2,"s":"DSS-GPUCB (CTDE)","x":0.6,"y":70},
{"p":2,"s":"DSS-GPUCB (CTDE)","x":1.2,"y":75.3},
{"p":2,"s":"DSS-GPUCB (CTDE)","x":1.8,"y":83.3}
]
},
"hconcat": [
{
 "width": 568, "height": 400,
 "title": {"text": "Drone Delivery 6"},
 "encoding": {
   "x": {"field": "x", "type": "quantitative", "scale": {"domain": [-0.1, 2.1], "nice": false, "zero": false},
         "axis": {"orient": "top", "values": [0, 0.5, 1, 1.5, 2], "labelExpr": "format(datum.value, '.1f')", "labelPadding": 6.7, "labelBaseline": "alphabetic", "labelFlush": false, "title": "1e6", "titleFontSize": 13.5, "titleFontWeight": "normal", "titleColor": "black", "titleAlign": "right", "titleX": 568, "titleY": -35, "titleBaseline": "alphabetic"}}
 },
 "layer": [
  {"data": {"name": "steps"}, "transform": [{"filter": "datum.p == 1"}],
   "mark": {"type": "area", "interpolate": "step-after", "opacity": 0.2, "clip": true},
   "encoding": {
     "y": {"field": "lo", "type": "quantitative", "stack": null, "scale": {"domain": [-12.0, 108.2], "nice": false, "zero": false}, "axis": {"values": [0, 20, 40, 60, 80, 100], "title": null, "labelPadding": 3}},
     "y2": {"field": "hi"},
     "fill": {"field": "s", "type": "nominal", "legend": null, "scale": {"domain": ["RODE", "DSS-GPUCB (HOM)", "DSS-GPUCB (CTDE)", "CDS-QPLEX", "G2ANET", "COMIX", "FACMAC", "MADDPG", "SOG"], "range": ["#17becf", "#bcbd22", "#7f7f7f", "#1f77b4", "#9467bd", "#ff7f0e", "#e377c2", "#2ca02c", "#d62728"]}}
   }},
  {"data": {"name": "steps"}, "transform": [{"filter": "datum.p == 1"}],
   "mark": {"type": "line", "interpolate": "step-after", "strokeWidth": 1.5, "clip": true},
   "encoding": {
     "y": {"field": "y", "type": "quantitative", "scale": {"domain": [-12.0, 108.2], "nice": false, "zero": false}, "axis": {"values": [0, 20, 40, 60, 80, 100], "title": null, "labelPadding": 3}},
     "stroke": {"field": "s", "type": "nominal", "legend": null, "scale": {"domain": ["RODE", "DSS-GPUCB (HOM)", "DSS-GPUCB (CTDE)", "CDS-QPLEX", "G2ANET", "COMIX", "FACMAC", "MADDPG", "SOG"], "range": ["#17becf", "#bcbd22", "#7f7f7f", "#1f77b4", "#9467bd", "#ff7f0e", "#e377c2", "#2ca02c", "#d62728"]}}
   }},
  {"data": {"name": "bars"}, "transform": [{"filter": "datum.p == 1"}],
   "mark": {"type": "rule", "strokeWidth": 1.5, "clip": true},
   "encoding": {
     "y": {"field": "lo", "type": "quantitative", "scale": {"domain": [-12.0, 108.2], "nice": false, "zero": false}, "axis": {"values": [0, 20, 40, 60, 80, 100], "title": null, "labelPadding": 3}},
     "y2": {"field": "hi"},
     "stroke": {"field": "s", "type": "nominal", "legend": null}
   }},
  {"data": {"name": "marks"}, "transform": [{"filter": "datum.p == 1 && datum.s == 'DSS-GPUCB (HOM)'"}],
   "mark": {"type": "point", "shape": "circle", "filled": false, "size": 160, "strokeWidth": 1.2, "opacity": 1, "clip": true},
   "encoding": {
     "y": {"field": "y", "type": "quantitative", "scale": {"domain": [-12.0, 108.2], "nice": false, "zero": false}, "axis": {"values": [0, 20, 40, 60, 80, 100], "title": null, "labelPadding": 3}},
     "stroke": {"field": "s", "type": "nominal", "legend": null}
   }},
  {"data": {"name": "marks"}, "transform": [{"filter": "datum.p == 1 && datum.s == 'DSS-GPUCB (CTDE)'"}],
   "mark": {"type": "point", "shape": "triangle-up", "filled": false, "size": 225, "strokeWidth": 1.2, "opacity": 1, "clip": true},
   "encoding": {
     "y": {"field": "y", "type": "quantitative", "scale": {"domain": [-12.0, 108.2], "nice": false, "zero": false}, "axis": {"values": [0, 20, 40, 60, 80, 100], "title": null, "labelPadding": 3}},
     "stroke": {"field": "s", "type": "nominal", "legend": null}
   }}
 ]
},
{
 "width": 568, "height": 400,
 "title": {"text": "Drone Delivery 9"},
 "encoding": {
   "x": {"field": "x", "type": "quantitative", "scale": {"domain": [-0.1, 2.1], "nice": false, "zero": false},
         "axis": {"orient": "top", "values": [0, 0.5, 1, 1.5, 2], "labelExpr": "format(datum.value, '.1f')", "labelPadding": 6.7, "labelBaseline": "alphabetic", "labelFlush": false, "title": "1e6", "titleFontSize": 13.5, "titleFontWeight": "normal", "titleColor": "black", "titleAlign": "right", "titleX": 568, "titleY": -35, "titleBaseline": "alphabetic"}}
 },
 "layer": [
  {"data": {"name": "steps"}, "transform": [{"filter": "datum.p == 2"}],
   "mark": {"type": "area", "interpolate": "step-after", "opacity": 0.2, "clip": true},
   "encoding": {
     "y": {"field": "lo", "type": "quantitative", "stack": null, "scale": {"domain": [-7.47, 102.3], "nice": false, "zero": false}, "axis": {"values": [0, 20, 40, 60, 80, 100], "title": null, "labelPadding": 3}},
     "y2": {"field": "hi"},
     "fill": {"field": "s", "type": "nominal", "legend": null}
   }},
  {"data": {"name": "steps"}, "transform": [{"filter": "datum.p == 2"}],
   "mark": {"type": "line", "interpolate": "step-after", "strokeWidth": 1.5, "clip": true},
   "encoding": {
     "y": {"field": "y", "type": "quantitative", "scale": {"domain": [-7.47, 102.3], "nice": false, "zero": false}, "axis": {"values": [0, 20, 40, 60, 80, 100], "title": null, "labelPadding": 3}},
     "stroke": {"field": "s", "type": "nominal", "legend": null}
   }},
  {"data": {"name": "bars"}, "transform": [{"filter": "datum.p == 2"}],
   "mark": {"type": "rule", "strokeWidth": 1.5, "clip": true},
   "encoding": {
     "y": {"field": "lo", "type": "quantitative", "scale": {"domain": [-7.47, 102.3], "nice": false, "zero": false}, "axis": {"values": [0, 20, 40, 60, 80, 100], "title": null, "labelPadding": 3}},
     "y2": {"field": "hi"},
     "stroke": {"field": "s", "type": "nominal", "legend": null}
   }},
  {"data": {"name": "marks"}, "transform": [{"filter": "datum.p == 2 && datum.s == 'DSS-GPUCB (HOM)'"}],
   "mark": {"type": "point", "shape": "circle", "filled": false, "size": 160, "strokeWidth": 1.2, "opacity": 1, "clip": true},
   "encoding": {
     "y": {"field": "y", "type": "quantitative", "scale": {"domain": [-7.47, 102.3], "nice": false, "zero": false}, "axis": {"values": [0, 20, 40, 60, 80, 100], "title": null, "labelPadding": 3}},
     "stroke": {"field": "s", "type": "nominal", "legend": null}
   }},
  {"data": {"name": "marks"}, "transform": [{"filter": "datum.p == 2 && datum.s == 'DSS-GPUCB (CTDE)'"}],
   "mark": {"type": "point", "shape": "triangle-up", "filled": false, "size": 225, "strokeWidth": 1.2, "opacity": 1, "clip": true},
   "encoding": {
     "y": {"field": "y", "type": "quantitative", "scale": {"domain": [-7.47, 102.3], "nice": false, "zero": false}, "axis": {"values": [0, 20, 40, 60, 80, 100], "title": null, "labelPadding": 3}},
     "stroke": {"field": "s", "type": "nominal", "legend": null}
   }},
  {"data": {"name": "marks"}, "transform": [{"filter": "datum.p == 0"}],
   "mark": {"type": "point", "filled": false, "strokeWidth": 1.5, "opacity": 1, "clip": true},
   "encoding": {
     "y": {"field": "y", "type": "quantitative", "scale": {"domain": [-7.47, 102.3], "nice": false, "zero": false}, "axis": {"values": [0, 20, 40, 60, 80, 100], "title": null, "labelPadding": 3}},
     "color": {"field": "s", "type": "nominal", "legend": {"title": null, "orient": "none", "legendX": 886, "legendY": 94},
       "scale": {"domain": ["DSS-GPUCB (HOM)", "DSS-GPUCB (CTDE)", "CDS-QPLEX", "G2ANET", "COMIX", "FACMAC", "MADDPG", "SOG", "RODE"], "range": ["#bcbd22", "#7f7f7f", "#1f77b4", "#9467bd", "#ff7f0e", "#e377c2", "#2ca02c", "#d62728", "#17becf"]}},
     "shape": {"field": "s", "type": "nominal", "legend": {"title": null, "orient": "none", "legendX": 886, "legendY": 94},
       "scale": {"domain": ["DSS-GPUCB (HOM)", "DSS-GPUCB (CTDE)", "CDS-QPLEX", "G2ANET", "COMIX", "FACMAC", "MADDPG", "SOG", "RODE"],
                 "range": ["M-2,0H2M0,-0.96V0.96M0.64,0A0.64,0.64 0 1 1 -0.64,0A0.64,0.64 0 1 1 0.64,0", "M-2,0H2M0,-0.96V0.96M0,-0.6L-0.7,0.6L0.7,0.6Z", "M-2,0H2M0,-0.96V0.96", "M-2,0H2M0,-0.96V0.96", "M-2,0H2M0,-0.96V0.96", "M-2,0H2M0,-0.96V0.96", "M-2,0H2M0,-0.96V0.96", "M-2,0H2M0,-0.96V0.96", "M-2,0H2M0,-0.96V0.96"]}}
   }}
 ]
}
]
}
